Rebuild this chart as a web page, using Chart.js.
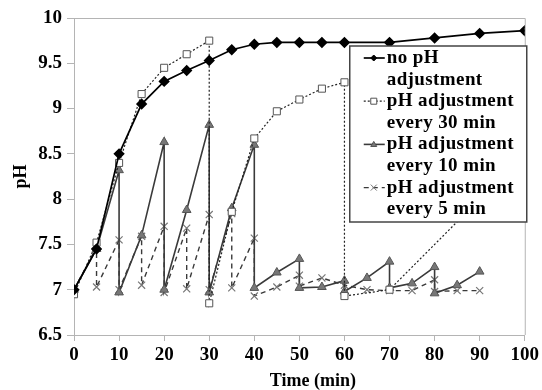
<!DOCTYPE html>
<html>
<head>
    <title>pH vs Time</title>
    <meta charset="UTF-8">
    <style>
        body { margin: 0; padding: 0; background: #fff; }
        canvas { display: block; }
    </style>
</head>
<body>
    <canvas id="phChart" width="542" height="390"></canvas>

    <script src="https://cdn.jsdelivr.net/npm/chart.js"></script>
    <script>
        // no pH adjustment
        const tNone  = [0, 5, 10, 15, 20, 25, 30, 35, 40, 45, 50, 55, 60, 70, 80, 90, 100];
        const phNone = [7.0, 7.45, 8.5, 9.05, 9.3, 9.42, 9.53, 9.65, 9.71, 9.73, 9.73, 9.73, 9.73, 9.73, 9.78, 9.83, 9.86];

        // pH adjustment every 30 min (repeated time = adjustment drop)
        const t30  = [0, 5, 10, 15, 20, 25, 30, 30, 35, 40, 45, 50, 55, 60, 60, 70, 90];
        const ph30 = [6.95, 7.52, 8.4, 9.16, 9.45, 9.6, 9.75, 6.85, 7.86, 8.67, 8.97, 9.1, 9.22, 9.29, 6.93, 7.0, 8.0];

        // pH adjustment every 10 min
        const t10  = [0, 5, 10, 10, 15, 20, 20, 25, 30, 30, 35, 40, 40, 45, 50, 50, 55, 60, 60, 65, 70, 70, 75, 80, 80, 85, 90];
        const ph10 = [7.0, 7.45, 8.32, 6.97, 7.6, 8.63, 7.0, 7.88, 8.82, 6.97, 7.9, 8.6, 7.02, 7.19, 7.34, 7.02, 7.03, 7.1, 6.98, 7.13, 7.31, 7.02, 7.07, 7.25, 6.96, 7.05, 7.2];

        // pH adjustment every 5 min
        const t5  = [0, 5, 5, 10, 10, 15, 15, 20, 20, 25, 25, 30, 30, 35, 35, 40, 40, 45, 50, 50, 55, 60, 65, 70, 75, 80, 80, 85, 90];
        const ph5 = [7.0, 7.47, 7.03, 7.55, 7.0, 7.59, 7.05, 7.7, 6.97, 7.68, 7.01, 7.83, 7.0, 7.84, 7.02, 7.57, 6.93, 7.03, 7.16, 7.04, 7.13, 7.05, 7.0, 6.99, 6.99, 7.11, 6.98, 6.99, 6.99];

        const seriesLabels = [
            ['no pH', 'adjustment'],
            ['pH adjustment', 'every 30 min'],
            ['pH adjustment', 'every 10 min'],
            ['pH adjustment', 'every 5 min']
        ];

        const xTicks = [0, 10, 20, 30, 40, 50, 60, 70, 80, 90, 100];
        const yTicks = [6.5, 7, 7.5, 8, 8.5, 9, 9.5, 10];

        function toPoints(ts, ys) {
            return ts.map((t, i) => ({ x: t, y: ys[i] }));
        }

        const serif = 'Liberation Serif, Times New Roman, serif';

        // light gray box round the plot (top and right sides)
        const framePlugin = {
            id: 'frame',
            beforeDatasetsDraw(chart) {
                const { ctx, chartArea: a } = chart;
                ctx.save();
                ctx.strokeStyle = '#b4b4b4';
                ctx.lineWidth = 1;
                ctx.beginPath();
                ctx.moveTo(a.left, a.top + 0.5);
                ctx.lineTo(a.right + 0.5, a.top + 0.5);
                ctx.lineTo(a.right + 0.5, a.bottom);
                ctx.stroke();
                ctx.restore();
            }
        };

        function drawMarker(ctx, style, x, y, r, ds) {
            ctx.save();
            ctx.fillStyle = ds.pointBackgroundColor;
            ctx.strokeStyle = ds.pointBorderColor;
            ctx.lineWidth = 1;
            ctx.setLineDash([]);
            ctx.beginPath();
            if (style === 'rectRot') {
                ctx.moveTo(x, y - r); ctx.lineTo(x + r, y); ctx.lineTo(x, y + r); ctx.lineTo(x - r, y);
                ctx.closePath(); ctx.fill(); ctx.stroke();
            } else if (style === 'rect') {
                ctx.rect(x - r, y - r, 2 * r, 2 * r); ctx.fill(); ctx.stroke();
            } else if (style === 'triangle') {
                ctx.moveTo(x, y - r); ctx.lineTo(x + r, y + r * 0.7); ctx.lineTo(x - r, y + r * 0.7);
                ctx.closePath(); ctx.fill(); ctx.stroke();
            } else {
                ctx.moveTo(x - r, y - r); ctx.lineTo(x + r, y + r);
                ctx.moveTo(x + r, y - r); ctx.lineTo(x - r, y + r);
                ctx.stroke();
            }
            ctx.restore();
        }

        // boxed legend drawn over the plot, as in the original figure
        const boxLegendPlugin = {
            id: 'boxLegend',
            afterDatasetsDraw(chart) {
                const { ctx, chartArea: a } = chart;
                const left = a.right - 175, top = a.top + 28;
                const w = 177, h = 176;
                const lineH = 21.6;
                ctx.save();
                ctx.fillStyle = '#fff';
                ctx.fillRect(left, top, w, h);
                ctx.strokeStyle = '#444';
                ctx.lineWidth = 1.5;
                ctx.strokeRect(left, top, w, h);
                ctx.font = 'bold 19px ' + serif;
                ctx.letterSpacing = '0.4px';
                ctx.fillStyle = '#000';
                ctx.textBaseline = 'middle';
                chart.data.datasets.forEach((ds, i) => {
                    const y0 = top + 12 + i * 2 * lineH;
                    ctx.save();
                    ctx.strokeStyle = ds.borderColor;
                    ctx.lineWidth = ds.borderWidth;
                    ctx.setLineDash(ds.borderDash || []);
                    ctx.beginPath();
                    ctx.moveTo(left + 14, y0);
                    ctx.lineTo(left + 35, y0);
                    ctx.stroke();
                    ctx.restore();
                    drawMarker(ctx, ds.pointStyle, left + 24, y0, 3, ds);
                    seriesLabels[i].forEach((txt, j) => {
                        ctx.fillText(txt, left + 37, y0 + j * lineH);
                    });
                });
                ctx.restore();
            }
        };

        window.onload = function () {
            const ctx = document.getElementById('phChart').getContext('2d');
            new Chart(ctx, {
                type: 'line',
                data: {
                    datasets: [
                        {
                            label: seriesLabels[0].join(' '),
                            data: toPoints(tNone, phNone),
                            borderColor: '#000',
                            borderWidth: 1.7,
                            pointStyle: 'rectRot',
                            pointRadius: 4.5,
                            pointBackgroundColor: '#000',
                            pointBorderColor: '#000',
                            tension: 0
                        },
                        {
                            label: seriesLabels[1].join(' '),
                            data: toPoints(t30, ph30),
                            borderColor: '#222',
                            borderWidth: 1.2,
                            borderDash: [2, 2],
                            pointStyle: 'rect',
                            pointRadius: 5,
                            pointBackgroundColor: '#fff',
                            pointBorderColor: '#555',
                            pointBorderWidth: 1,
                            tension: 0
                        },
                        {
                            label: seriesLabels[2].join(' '),
                            data: toPoints(t10, ph10),
                            borderColor: '#3a3a3a',
                            borderWidth: 1.6,
                            pointStyle: 'triangle',
                            pointRadius: 5,
                            pointBackgroundColor: '#777',
                            pointBorderColor: '#555',
                            pointBorderWidth: 1,
                            tension: 0
                        },
                        {
                            label: seriesLabels[3].join(' '),
                            data: toPoints(t5, ph5),
                            borderColor: '#3a3a3a',
                            borderWidth: 1.4,
                            borderDash: [5, 4],
                            pointStyle: 'crossRot',
                            pointRadius: 5,
                            pointBackgroundColor: '#777',
                            pointBorderColor: '#777',
                            pointBorderWidth: 1.2,
                            tension: 0
                        }
                    ]
                },
                options: {
                    responsive: false,
                    animation: false,
                    layout: { padding: { left: 0, right: 16, top: 18, bottom: 0 } },
                    plugins: {
                        legend: { display: false },
                        tooltip: { enabled: false }
                    },
                    scales: {
                        x: {
                            type: 'linear',
                            min: 0,
                            max: 100,
                            afterFit: (s) => { s.height = 55; },
                            afterBuildTicks: (s) => { s.ticks = xTicks.map(v => ({ value: v })); },
                            grid: { drawOnChartArea: false, tickLength: 6, color: '#b4b4b4' },
                            border: { color: '#b4b4b4' },
                            ticks: {
                                color: '#000',
                                padding: 3,
                                maxRotation: 0,
                                callback: (v) => String(v),
                                font: { family: serif, size: 19, weight: 'bold' }
                            },
                            title: {
                                display: true,
                                text: '      Time (min)',
                                color: '#000',
                                padding: { top: 0, bottom: 0 },
                                font: { family: serif, size: 18, weight: 'bold', lineHeight: 1 }
                            }
                        },
                        y: {
                            min: 6.5,
                            max: 10,
                            afterFit: (s) => { s.width = 74; },
                            afterBuildTicks: (s) => { s.ticks = yTicks.map(v => ({ value: v })); },
                            grid: { drawOnChartArea: false, tickLength: 7, color: '#b4b4b4' },
                            border: { color: '#b4b4b4' },
                            ticks: {
                                color: '#000',
                                padding: 5,
                                callback: (v) => String(v),
                                font: { family: serif, size: 19, weight: 'bold' }
                            },
                            title: {
                                display: true,
                                text: 'pH',
                                color: '#000',
                                padding: { top: 12, bottom: 0 },
                                font: { family: serif, size: 18, weight: 'bold', lineHeight: 1 }
                            }
                        }
                    }
                },
                plugins: [framePlugin, boxLegendPlugin]
            });
        };
    </script>
</body>
</html>
